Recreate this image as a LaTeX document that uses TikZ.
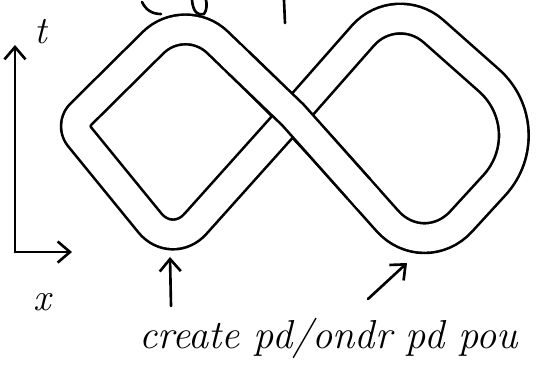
\documentclass[tikz,border=0pt]{standalone}
\usepackage{tikz}
\usetikzlibrary{arrows.meta, calc}

\tikzset{
  sketch/.style={line width=1.5pt, line cap=round, line join=round},
  band/.style={double, double distance=0.54cm, line width=1.5pt, line join=round},
  pointer/.style={sketch, -{Straight Barb[length=7pt, width=12pt]}},
}

\begin{document}
\begin{tikzpicture}[x=0.02cm, y=-0.02cm]
\useasboundingbox (0,0) rectangle (539,387);
\clip (0,0) rectangle (539,387);

% corners of the figure eight (middle line of the band)
\coordinate (C) at (293,115);
\coordinate (LT) at (185,11);
\coordinate (LL) at (70,125);
\coordinate (LB) at (172,250);
\coordinate (RT) at (396,-2);
\coordinate (RR) at (545,130);
\coordinate (RB) at (424,262);

% whole band, then the upper strip again on top
\draw[band] (C) [rounded corners=0.9cm] -- (LT) [rounded corners=0.3cm] -- (LL)
  [rounded corners=0.7cm] -- (LB) -- (C) [rounded corners=1.0cm] -- (RT)
  [rounded corners=1.5cm] -- (RR) [rounded corners=1.1cm] -- (RB) -- cycle;
\draw[line width=0.54cm+3pt] ($(LT)!0.5!(C)$) -- (C) -- ($(C)!0.5!(RB)$);
\draw[white, line width=0.54cm] ($(LT)!0.42!(C)$) -- (C) -- ($(C)!0.58!(RB)$);

% axes
\coordinate (O) at (15,252);
\coordinate (tend) at (15,45);
\coordinate (xend) at (72,252);
\draw[pointer] (O) -- (tend);
\draw[pointer] (O) -- (xend);
\node[font=\fontsize{22}{24}\selectfont\itshape] (tlab) at (41,32) {t};
\node[font=\fontsize{22}{24}\selectfont\itshape] (xlab) at (42,302) {x};

% caption and pointers
\node[anchor=base west, font=\fontsize{23}{27}\selectfont\itshape] (caption) at (133,348) {create pd/ondr pd pou};
\coordinate (pa) at (171,306);
\coordinate (ta) at (170,257);
\coordinate (pb) at (368,299);
\coordinate (tb) at (407,263);
\draw[pointer] (pa) -- (ta);
\draw[pointer] (pb) -- (tb);

% ends of the cut off line above
\draw[sketch] (142,2) .. controls (146,10) and (152,14) .. (161,14);
\draw[sketch] (192,0) .. controls (193,12) and (198,16) .. (204,14) .. controls (207,10) and (207,4) .. (206,0);
\draw[sketch] (284,0) -- (285,23);
\end{tikzpicture}
\end{document}
